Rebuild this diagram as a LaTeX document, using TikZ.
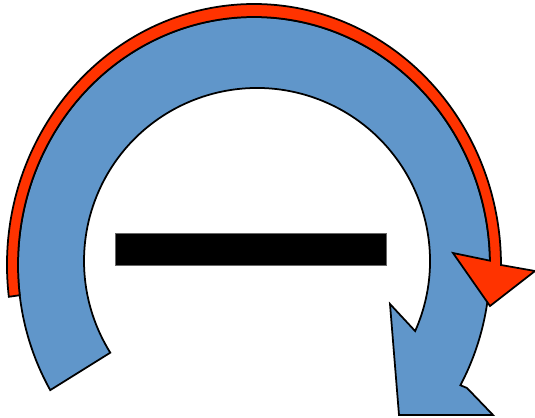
\documentclass[tikz,border=0pt]{standalone}
\usetikzlibrary{calc}
\definecolor{arcblue}{RGB}{96,150,202}
\definecolor{arcred}{RGB}{255,51,0}
\tikzset{
  bluearc/.style={draw=black, line width=1.25pt, fill=arcblue, line join=miter},
  redarc/.style ={draw=black, line width=1.25pt, fill=arcred, line join=miter},
  barbox/.style ={fill=black, draw=black!60, line width=0.4pt},
}

\begin{document}
\begin{tikzpicture}[x=0.025cm, y=0.025cm]
  \useasboundingbox (0,0) rectangle (535,417);
  \clip (0,0) rectangle (535,417);
  \coordinate (Ci) at (257,156); % inner circle
  \coordinate (Co) at (254,152); % outer ellipse
  % blue turning arrow
  \draw[bluearc] ($(Co)+(210.3:236 and 248)$)
      arc[start angle=210.3, end angle=-29, x radius=236, y radius=248]
      -- (467,29) -- (493,2) -- (399,2) -- (390,113) -- ($(Ci)+(-23.9:173)$)
      arc[start angle=-23.9, end angle=212, radius=173] -- cycle;
  % red ribbon on the rim
  \draw[redarc] ($(Co)+(187:247 and 261)$)
      arc[start angle=187, end angle=0, x radius=247, y radius=261]
      -- (535,146) -- (490,111) -- (453,164) -- ($(Co)+(1:236 and 248)$)
      arc[start angle=1, end angle=187, x radius=236, y radius=248] -- cycle;
  % bar
  \filldraw[barbox] (115,152) rectangle (386,184);
\end{tikzpicture}
\end{document}
